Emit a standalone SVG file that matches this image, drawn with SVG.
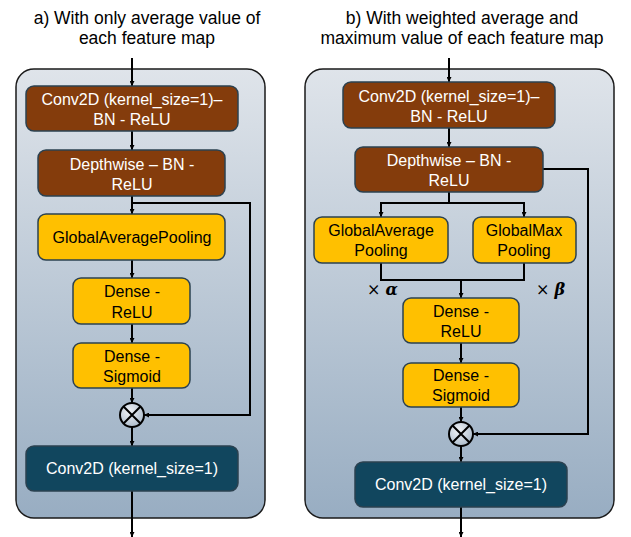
<svg xmlns="http://www.w3.org/2000/svg" width="631" height="537" viewBox="0 0 631 537">
<defs>
<linearGradient id="panel" x1="0" y1="0" x2="0" y2="1">
<stop offset="0" stop-color="#dfe4ea"/>
<stop offset="1" stop-color="#98adc2"/>
</linearGradient>
<radialGradient id="circ" cx="0.4" cy="0.35" r="0.7">
<stop offset="0" stop-color="#f2f4f7"/>
<stop offset="1" stop-color="#a9b9c9"/>
</radialGradient>
<marker id="ah" viewBox="0 0 10 10" refX="10" refY="5" markerWidth="5" markerHeight="5" orient="auto" markerUnits="userSpaceOnUse">
<path d="M0,0 L10,5 L0,10 z" fill="#000"/>
</marker>
<style>
.panel{fill:url(#panel);stroke:#1a1a1a;stroke-width:1.5}
.brown{fill:#843c0c;stroke:#2b4150;stroke-width:1.5}
.yellow{fill:#ffc000;stroke:#2b4150;stroke-width:1.5}
.teal{fill:#11465e;stroke:#2b4150;stroke-width:1.5}
.w{fill:#fff;font-family:"Liberation Sans",Arial,sans-serif;font-size:16px;text-anchor:middle}
.k{fill:#000;font-family:"Liberation Sans",Arial,sans-serif;font-size:16px;text-anchor:middle}
.title{fill:#000;font-family:"Liberation Sans",Arial,sans-serif;font-size:17.5px;text-anchor:middle}
.c{fill:none;stroke:#000;stroke-width:2}
.ca{fill:none;stroke:#000;stroke-width:2;marker-end:url(#ah)}
.mul{fill:url(#circ);stroke:#000;stroke-width:2}
.math{font-family:"DejaVu Serif","Liberation Serif",serif;font-size:16px;fill:#000}
</style>
</defs>

<text class="title" x="147" y="24">a) With only average value of</text>
<text class="title" x="147" y="44">each feature map</text>
<text class="title" x="462" y="24">b) With weighted average and</text>
<text class="title" x="462" y="44">maximum value of each feature map</text>

<rect class="panel" x="16" y="69" width="249" height="449" rx="18"/>
<rect class="panel" x="305" y="69" width="309" height="449" rx="18"/>

<g id="connectors">
<line class="ca" x1="132" y1="58" x2="132" y2="86"/>
<line class="ca" x1="132" y1="131" x2="132" y2="150"/>
<line class="ca" x1="132" y1="196" x2="132" y2="214"/>
<polyline class="ca" points="132,203 250,203 250,415 144,415"/>
<line class="ca" x1="132" y1="260" x2="132" y2="278"/>
<line class="ca" x1="132" y1="324" x2="132" y2="343"/>
<line class="ca" x1="132" y1="388" x2="132" y2="403"/>
<line class="ca" x1="132" y1="427" x2="132" y2="446"/>
<line class="ca" x1="132" y1="491" x2="132" y2="537"/>
<line class="ca" x1="449" y1="58" x2="449" y2="82"/>
<line class="ca" x1="449" y1="128" x2="449" y2="147"/>
<line class="c" x1="449" y1="192" x2="449" y2="203"/>
<polyline class="ca" points="449,203 381,203 381,217"/>
<polyline class="ca" points="449,203 524,203 524,217"/>
<polyline class="ca" points="543,169 588,169 588,434 473,434"/>
<polyline class="c" points="381,263 381,280 524,280 524,263"/>
<line class="ca" x1="461" y1="280" x2="461" y2="298"/>
<line class="ca" x1="461" y1="343" x2="461" y2="363"/>
<line class="ca" x1="461" y1="407" x2="461" y2="422"/>
<line class="ca" x1="461" y1="446" x2="461" y2="462"/>
<line class="ca" x1="461" y1="507" x2="461" y2="537"/>
</g>

<g id="a_conv1">
<rect class="brown" x="26" y="86" width="212" height="45" rx="8"/>
<text class="w" x="132" y="105">Conv2D (kernel_size=1)–</text>
<text class="w" x="132" y="125">BN - ReLU</text>
</g>
<g id="a_depthwise">
<rect class="brown" x="38" y="150" width="187" height="46" rx="8"/>
<text class="w" x="132" y="170">Depthwise – BN -</text>
<text class="w" x="132" y="190">ReLU</text>
</g>
<g id="a_gap">
<rect class="yellow" x="38" y="214" width="187" height="46" rx="8"/>
<text class="k" x="132" y="243">GlobalAveragePooling</text>
</g>
<g id="a_dense_relu">
<rect class="yellow" x="73" y="278" width="117" height="46" rx="8"/>
<text class="k" x="132" y="297">Dense -</text>
<text class="k" x="132" y="318">ReLU</text>
</g>
<g id="a_dense_sigmoid">
<rect class="yellow" x="73" y="343" width="117" height="45" rx="8"/>
<text class="k" x="132" y="362">Dense -</text>
<text class="k" x="132" y="382">Sigmoid</text>
</g>
<g id="a_mul">
<circle class="mul" cx="132" cy="415" r="12"/>
<path class="c" d="M123.5,406.5 L140.5,423.5 M140.5,406.5 L123.5,423.5"/>
</g>
<g id="a_conv2">
<rect class="teal" x="26" y="446" width="212" height="45" rx="8"/>
<text class="w" x="132" y="474">Conv2D (kernel_size=1)</text>
</g>

<g id="b_conv1">
<rect class="brown" x="343" y="82" width="212" height="46" rx="8"/>
<text class="w" x="449" y="102">Conv2D (kernel_size=1)–</text>
<text class="w" x="449" y="122">BN - ReLU</text>
</g>
<g id="b_depthwise">
<rect class="brown" x="355" y="147" width="188" height="45" rx="8"/>
<text class="w" x="449" y="166">Depthwise – BN -</text>
<text class="w" x="449" y="186">ReLU</text>
</g>
<g id="b_gap">
<rect class="yellow" x="314" y="217" width="134" height="46" rx="8"/>
<text class="k" x="381" y="236">GlobalAverage</text>
<text class="k" x="381" y="256">Pooling</text>
</g>
<g id="b_gmp">
<rect class="yellow" x="473" y="217" width="103" height="46" rx="8"/>
<text class="k" x="524" y="236">GlobalMax</text>
<text class="k" x="524" y="256">Pooling</text>
</g>
<g id="b_alpha">
<text class="math" x="367" y="295">× <tspan font-weight="bold" font-style="italic">α</tspan></text>
</g>
<g id="b_beta">
<text class="math" x="536" y="295">× <tspan font-weight="bold" font-style="italic">β</tspan></text>
</g>
<g id="b_dense_relu">
<rect class="yellow" x="403" y="298" width="116" height="45" rx="8"/>
<text class="k" x="461" y="317">Dense -</text>
<text class="k" x="461" y="337">ReLU</text>
</g>
<g id="b_dense_sigmoid">
<rect class="yellow" x="403" y="363" width="116" height="44" rx="8"/>
<text class="k" x="461" y="381">Dense -</text>
<text class="k" x="461" y="401">Sigmoid</text>
</g>
<g id="b_mul">
<circle class="mul" cx="461" cy="434" r="12"/>
<path class="c" d="M452.5,425.5 L469.5,442.5 M469.5,425.5 L452.5,442.5"/>
</g>
<g id="b_conv2">
<rect class="teal" x="355" y="462" width="212" height="45" rx="8"/>
<text class="w" x="461" y="490">Conv2D (kernel_size=1)</text>
</g>
</svg>
